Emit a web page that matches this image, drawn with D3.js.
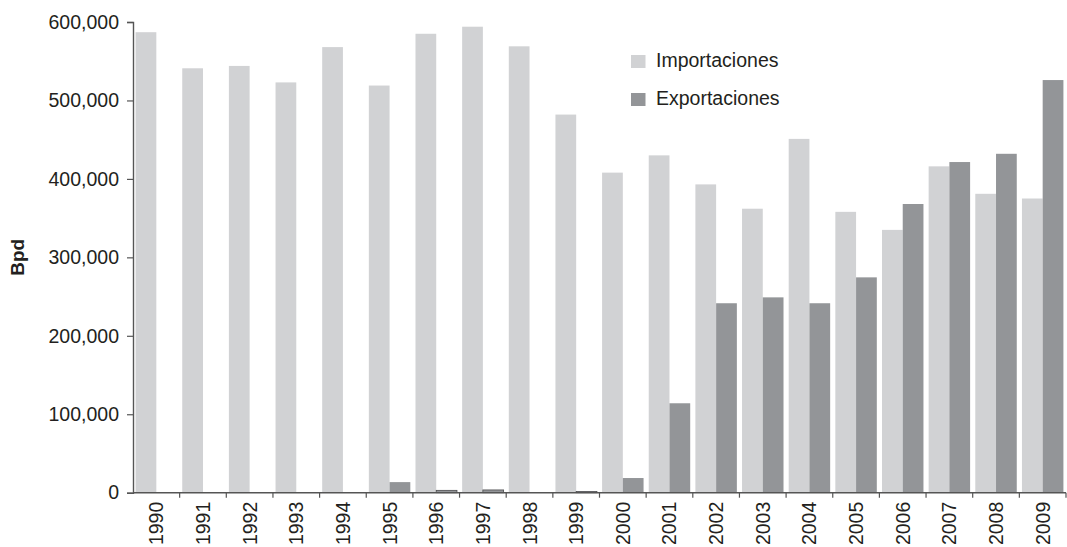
<!DOCTYPE html>
<html>
<head>
<meta charset="utf-8">
<script src="https://cdn.jsdelivr.net/npm/d3@7"></script>
<style>
  html, body { margin: 0; padding: 0; background: #fff; }
  svg text { font-family: "Liberation Sans", Arial, sans-serif; fill: #231f20; }
</style>
</head>
<body>
<svg id="chart" width="1067" height="547"></svg>
<script>
const years = ["1990","1991","1992","1993","1994","1995","1996","1997","1998","1999",
               "2000","2001","2002","2003","2004","2005","2006","2007","2008","2009"];
const importaciones = [587000, 541000, 544000, 523000, 568000, 519000, 585000, 594000, 569000, 482000,
                       408000, 430000, 393000, 362000, 451000, 358000, 335000, 416000, 381000, 375000];
const exportaciones = [0, 0, 0, 0, 0, 13500, 3000, 3500, 0, 1500,
                       18700, 114000, 241500, 249000, 241500, 274500, 368000, 421500, 432000, 526000];
const seriesNames = ["Importaciones", "Exportaciones"];
const seriesColors = ["#d1d2d4", "#939598"];
const yTicks = [0, 100000, 200000, 300000, 400000, 500000, 600000];
const yTitle = "Bpd";

const svg = d3.select("#chart");
const margin = { left: 133, right: 1, top: 22, bottom: 54 };
const W = 1067, H = 547;
const x0 = margin.left, x1 = W - margin.right;
const yTop = margin.top, yBot = 492.7;

const x = d3.scaleBand().domain(years).range([x0, x1]).paddingInner(0).paddingOuter(0);
const xs = d3.scaleBand().domain(seriesNames).range([0, x.bandwidth()]).paddingInner(0).paddingOuter(0.125);
const y = d3.scaleLinear().domain([0, 600000]).range([yBot, yTop]);

const data = years.map((yr, i) => ({ year: yr, values: [importaciones[i], exportaciones[i]] }));

const g = svg.append("g");
const groups = g.selectAll("g.yr").data(data).enter().append("g")
  .attr("transform", d => `translate(${x(d.year)},0)`);
groups.selectAll("rect").data(d => d.values.map((v, k) => ({ v, k })))
  .enter().append("rect")
  .attr("x", d => xs(seriesNames[d.k]))
  .attr("width", xs.bandwidth())
  .attr("y", d => y(d.v))
  .attr("height", d => yBot - y(d.v))
  .attr("fill", d => seriesColors[d.k])
  .attr("stroke", d => d.v > 0 && d.v < 5000 ? "#4a4a4c" : "none")
  .attr("stroke-width", 0.8);

// Y axis
const yAxis = d3.axisLeft(y).tickValues(yTicks).tickSize(6).tickPadding(8)
  .tickFormat(d3.format(","));
const ya = svg.append("g").attr("transform", `translate(${x0},0)`).call(yAxis);
ya.select(".domain").attr("stroke", "#555").attr("stroke-width", 1.4);
ya.selectAll(".tick line").attr("stroke", "#555").attr("stroke-width", 1.2);
ya.selectAll(".tick text").attr("font-size", 19.5).attr("fill", "#231f20")
  .attr("font-family", "Liberation Sans, Arial, sans-serif");

// X axis (ticks at band boundaries)
const xa = svg.append("g").attr("transform", `translate(0,${yBot})`);
xa.append("line").attr("x1", x0).attr("x2", x1).attr("y1", 0).attr("y2", 0)
  .attr("stroke", "#555").attr("stroke-width", 1.4);
const bounds = years.map(yr => x(yr)).concat([x(years[years.length - 1]) + x.bandwidth()]);
xa.selectAll("line.tk").data(bounds.slice(1)).enter().append("line")
  .attr("class", "tk")
  .attr("x1", d => d).attr("x2", d => d).attr("y1", 0).attr("y2", 5)
  .attr("stroke", "#555").attr("stroke-width", 1.2);
xa.selectAll("text").data(years).enter().append("text")
  .attr("transform", d => `translate(${x(d) + x.bandwidth() / 2 + 7},9) rotate(-90)`)
  .attr("text-anchor", "end")
  .attr("font-size", 19.5)
  .text(d => d);

// Y title
svg.append("text")
  .attr("transform", `translate(24,${(yTop + yBot) / 2}) rotate(-90)`)
  .attr("text-anchor", "middle")
  .attr("font-size", 19)
  .attr("font-weight", "bold")
  .text(yTitle);

// Legend
const lg = svg.append("g").attr("transform", "translate(631,55)");
seriesNames.forEach((s, i) => {
  lg.append("rect").attr("x", 0).attr("y", i * 38).attr("width", 14.5).attr("height", 13)
    .attr("fill", seriesColors[i]);
  lg.append("text").attr("x", 25).attr("y", i * 38 + 12).attr("font-size", 19.5).text(s);
});
</script>
</body>
</html>
